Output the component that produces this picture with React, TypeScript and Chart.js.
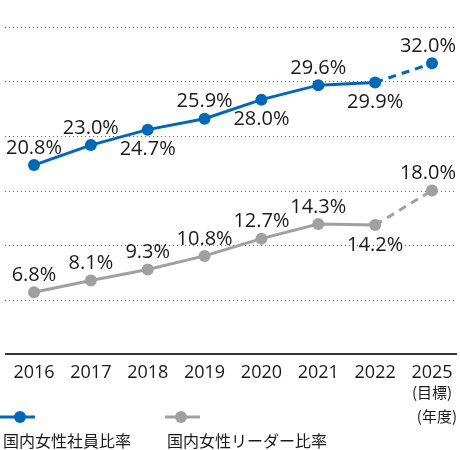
import React, { useEffect, useRef } from "react";
import { Chart, registerables } from "chart.js";

Chart.register(...registerables);

const years = ["2016", "2017", "2018", "2019", "2020", "2021", "2022", "2025"];
const employeeRatio = [20.8, 23.0, 24.7, 25.9, 28.0, 29.6, 29.9, 32.0];
const leaderRatio = [6.8, 8.1, 9.3, 10.8, 12.7, 14.3, 14.2, 18.0];
const employeeLabelPos = ["above", "above", "below", "above", "below", "above", "below", "above"];
const leaderLabelPos = ["above", "above", "above", "above", "above", "above", "below", "above"];
const gridValues = [6, 12, 18, 24, 30, 36];
const seriesNames = ["国内女性社員比率", "国内女性リーダー比率"];
const targetNote = "(目標)";
const unitNote = "(年度)";

const BLUE = "#0068b7";
const GRAY = "#a0a0a0";
const TEXT = "#1a1a1a";
const FONT = "'Open Sans', 'Noto Sans CJK JP', sans-serif";
const CJK = "'Noto Sans CJK JP', sans-serif";
const GRID_LEFT = 5;
const GRID_RIGHT = 457;

const labelsPlugin = {
  id: "customLabels",
  beforeDatasetsDraw(chart: any) {
    const ctx = chart.ctx;
    const ys = chart.scales.y;
    ctx.save();
    ctx.strokeStyle = "#666666";
    ctx.lineWidth = 1;
    ctx.setLineDash([1, 3]);
    gridValues.forEach((v) => {
      const y = Math.round(ys.getPixelForValue(v)) + 0.5;
      ctx.beginPath();
      ctx.moveTo(GRID_LEFT, y);
      ctx.lineTo(GRID_RIGHT, y);
      ctx.stroke();
    });
    ctx.setLineDash([]);
    ctx.strokeStyle = "#333333";
    ctx.lineWidth = 2;
    const y0 = Math.round(ys.getPixelForValue(0));
    ctx.beginPath();
    ctx.moveTo(GRID_LEFT, y0);
    ctx.lineTo(GRID_RIGHT, y0);
    ctx.stroke();
    ctx.restore();
  },
  afterDatasetsDraw(chart: any) {
    const ctx = chart.ctx;
    ctx.save();
    ctx.fillStyle = TEXT;
    ctx.font = `20px ${FONT}`;
    ctx.textAlign = "center";
    ctx.textBaseline = "middle";
    const posArrays = [employeeLabelPos, leaderLabelPos];
    chart.data.datasets.forEach((ds: any, di: number) => {
      const meta = chart.getDatasetMeta(di);
      meta.data.forEach((pt: any, i: number) => {
        const text = ds.data[i].toFixed(1) + "%";
        const w = ctx.measureText(text).width;
        let x = pt.x;
        if (x + w / 2 > 456) x = 456 - w / 2;
        if (x - w / 2 < 5) x = 5 + w / 2;
        const y = posArrays[di][i] === "above" ? pt.y - 17 : pt.y + 20;
        ctx.fillText(text, x, y);
      });
    });
    ctx.restore();
  },
  afterDraw(chart: any) {
    const ctx = chart.ctx;
    const xs = chart.scales.x;
    ctx.save();
    ctx.fillStyle = TEXT;
    ctx.textBaseline = "middle";
    ctx.font = `15px ${CJK}`;
    ctx.textAlign = "center";
    ctx.fillText(targetNote, xs.getPixelForTick(years.length - 1), 392);
    ctx.textAlign = "right";
    ctx.fillText(unitNote, 457, 416);
    const items = [
      { color: BLUE, x0: 0, x1: 35, cx: 20, tx: 3, name: seriesNames[0] },
      { color: GRAY, x0: 165, x1: 200, cx: 181, tx: 167, name: seriesNames[1] },
    ];
    items.forEach((it) => {
      ctx.strokeStyle = it.color;
      ctx.lineWidth = 3;
      ctx.beginPath();
      ctx.moveTo(it.x0, 417);
      ctx.lineTo(it.x1, 417);
      ctx.stroke();
      ctx.fillStyle = it.color;
      ctx.beginPath();
      ctx.arc(it.cx, 417, 6, 0, Math.PI * 2);
      ctx.fill();
      ctx.fillStyle = TEXT;
      ctx.font = `16px ${CJK}`;
      ctx.textAlign = "left";
      ctx.fillText(it.name, it.tx, 441);
    });
    ctx.restore();
  },
};

export default function App() {
  const ref = useRef<HTMLCanvasElement>(null);
  useEffect(() => {
    if (!ref.current) return;
    const lastSeg = years.length - 2;
    const chart = new Chart(ref.current, {
      type: "line",
      data: {
        labels: years,
        datasets: [
          {
            label: seriesNames[0],
            data: employeeRatio,
            borderColor: BLUE,
            backgroundColor: BLUE,
            borderWidth: 3,
            pointRadius: 6,
            pointHoverRadius: 6,
            pointBorderWidth: 0,
            segment: { borderDash: (c: any) => (c.p0DataIndex === lastSeg ? [8, 6] : undefined) },
          },
          {
            label: seriesNames[1],
            data: leaderRatio,
            borderColor: GRAY,
            backgroundColor: GRAY,
            borderWidth: 3,
            pointRadius: 6,
            pointHoverRadius: 6,
            pointBorderWidth: 0,
            segment: { borderDash: (c: any) => (c.p0DataIndex === lastSeg ? [8, 6] : undefined) },
          },
        ],
      },
      options: {
        responsive: false,
        animation: false,
        clip: false,
        layout: { padding: { left: 34, right: 28, top: 27, bottom: 0 } },
        plugins: { legend: { display: false }, tooltip: { enabled: false } },
        scales: {
          x: {
            offset: false,
            grid: { display: false, drawTicks: false },
            border: { display: false },
            ticks: { color: TEXT, font: { family: FONT, size: 18 }, padding: 8, maxRotation: 0, autoSkip: false },
            afterFit: (s: any) => { s.height = 96; s.paddingLeft = 0; s.paddingRight = 0; },
          },
          y: {
            min: 0,
            max: 36,
            ticks: { display: false, stepSize: 6 },
            grid: { display: false, drawTicks: false },
            border: { display: false },
            afterFit: (s: any) => { s.width = 0; s.paddingTop = 0; s.paddingBottom = 0; },
          },
        },
      },
      plugins: [labelsPlugin],
    });
    return () => chart.destroy();
  }, []);
  return (
    <div style={{ position: "fixed", left: 0, top: 0, width: 460, height: 450, background: "#fff" }}>
      <canvas ref={ref} width={460} height={450} />
    </div>
  );
}
